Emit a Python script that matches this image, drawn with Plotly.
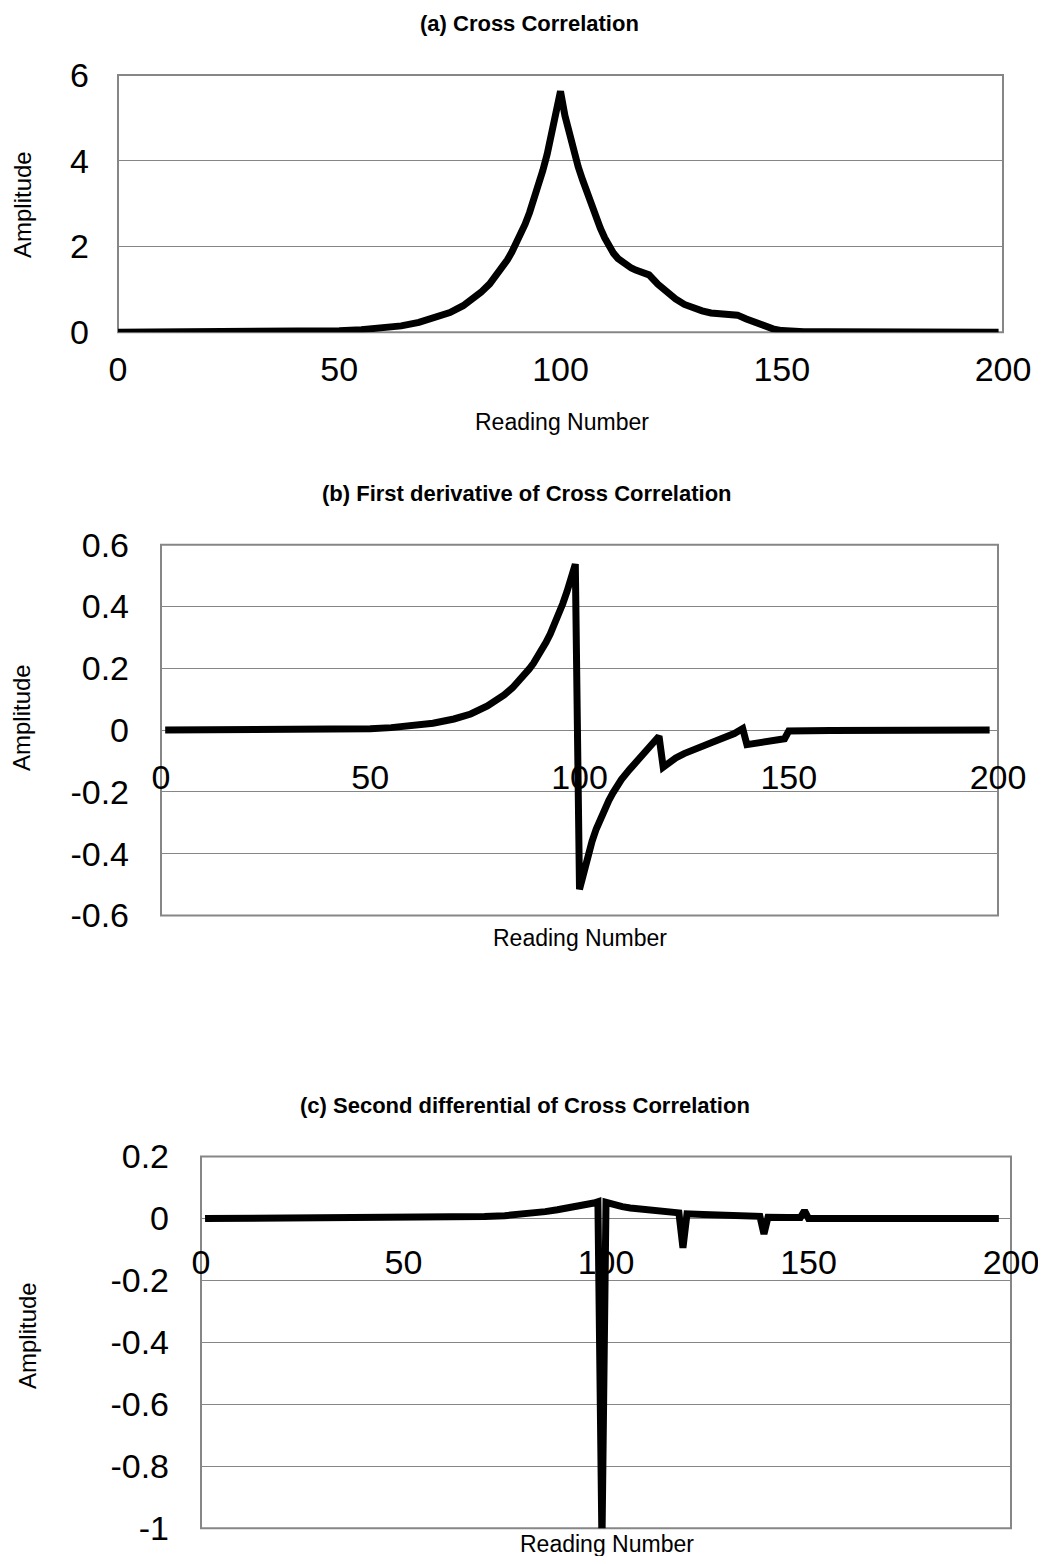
import plotly.graph_objects as go

# ---------------- data ----------------
# (a) Cross Correlation
a_x = [0, 20, 40, 50, 55, 60, 64, 68, 72, 75, 78, 80, 82, 84, 86, 87, 88, 89, 90, 91, 92, 93,
       94, 95, 96, 97, 98, 99,
       100, 101, 102, 103, 104, 105, 106, 107, 108, 109, 110, 111, 112, 113, 114, 115, 116, 117,
       118, 119, 120, 122, 124, 126, 128, 130, 132, 134, 136, 138, 140, 142, 144, 146, 148, 150,
       152, 155, 160, 170, 199]
a_y = [0.0, 0.002, 0.014, 0.038, 0.062, 0.10, 0.15, 0.23, 0.34, 0.46, 0.62, 0.76, 0.93, 1.13,
       1.38, 1.53, 1.69, 1.87, 2.07, 2.29, 2.52, 2.79, 3.08, 3.41, 3.77, 4.16, 4.60, 5.09,
       5.62, 5.05, 4.60, 4.20, 3.86, 3.55, 3.24, 2.95, 2.68, 2.43, 2.20, 2.00, 1.84, 1.72, 1.63,
       1.56, 1.50, 1.45, 1.41, 1.37, 1.34, 1.12, 0.93, 0.78, 0.65, 0.56, 0.50, 0.45, 0.42, 0.41,
       0.40, 0.31, 0.22, 0.14, 0.08, 0.04, 0.025, 0.015, 0.01, 0.005, 0.0]

# (b) First derivative of Cross Correlation
b_x = [1, 20, 40, 50, 55, 60, 65, 70, 74, 78, 80, 82, 84, 86, 88, 89, 90, 91, 92, 93, 94, 95,
       96, 97, 98, 99,
       100, 101, 102, 103, 104, 105, 106, 107, 108, 109, 110, 112, 114, 116, 118, 119,
       120, 121, 123, 125, 128, 131, 134, 137, 139,
       140, 143, 146, 149, 150, 155, 160, 198]
b_y = [0.0, 0.0002, 0.0015, 0.004, 0.008, 0.014, 0.022, 0.036, 0.052, 0.078, 0.094, 0.114,
       0.137, 0.165, 0.198, 0.216, 0.237, 0.259, 0.284, 0.311, 0.341, 0.373, 0.409, 0.448,
       0.490, 0.537,
       -0.515, -0.455, -0.405, -0.36, -0.32, -0.285, -0.255, -0.228, -0.203, -0.18, -0.16,
       -0.127, -0.097, -0.068, -0.038, -0.02,
       -0.12, -0.108, -0.09, -0.076, -0.058, -0.042, -0.027, -0.011, 0.005,
       -0.047, -0.04, -0.034, -0.028, -0.003, -0.002, -0.001, 0.0]

# (c) Second differential of Cross Correlation
c_x = [1, 50, 60, 65, 70, 75, 80, 85, 88, 91, 94, 96, 97, 98, 99, 100, 101, 102, 104, 106, 110,
       114, 118, 119, 120, 124, 128, 132, 136, 138, 139, 140, 145, 148, 149, 150, 160, 197]
c_y = [0.0, 0.0005, 0.001, 0.002, 0.006, 0.009, 0.014, 0.022, 0.028, 0.034, 0.042, 0.047,
       0.050, 0.054, -1.05, 0.052, 0.047, 0.043, 0.038, 0.034, 0.029, 0.022, 0.018,
       -0.095, 0.015, 0.013, 0.012, 0.010, 0.008, 0.007, -0.05, 0.004, 0.003, 0.003, 0.025, 0.0,
       0.0, 0.0]

x_ticks = [0, 50, 100, 150, 200]
x_ticktext = ["0", "50", "100", "150", "200"]
a_yticks = [0, 2, 4, 6]
a_yticktext = ["0", "2", "4", "6"]
b_yticks = [-0.6, -0.4, -0.2, 0, 0.2, 0.4, 0.6]
b_yticktext = ["-0.6", "-0.4", "-0.2", "0", "0.2", "0.4", "0.6"]
c_yticks = [-1, -0.8, -0.6, -0.4, -0.2, 0, 0.2]
c_yticktext = ["-1", "-0.8", "-0.6", "-0.4", "-0.2", "0", "0.2"]

titles = ["(a) Cross Correlation",
          "(b) First derivative of Cross Correlation",
          "(c) Second differential of Cross Correlation"]

# ---------------- layout geometry (pixels of the browser window) ----------------
VW, VH = 1046, 1564
BODY = 8                      # default page margin around the plot div
W, H = VW - 2 * BODY, VH - 2 * BODY
FONT = "Liberation Sans, Arial, sans-serif"
GRID = "#868686"
TICKSIZE = 34


def fx(px):
    return (px - BODY) / W


def fy(py):
    return 1 - (py - BODY) / H


fig = go.Figure()
line = dict(color="black", width=7)
fig.add_trace(go.Scatter(x=a_x, y=a_y, mode="lines", line=line, xaxis="x", yaxis="y",
                         showlegend=False))
fig.add_trace(go.Scatter(x=b_x, y=b_y, mode="lines", line=line, xaxis="x2", yaxis="y2",
                         showlegend=False))
fig.add_trace(go.Scatter(x=c_x, y=c_y, mode="lines", line=line, xaxis="x3", yaxis="y3",
                         showlegend=False))

tickfont = dict(family=FONT, size=TICKSIZE, color="black")


def xax(left, right, standoff, **kw):
    d = dict(domain=[fx(left), fx(right)], range=[0, 200], tickmode="array",
             tickvals=x_ticks, ticktext=x_ticktext, showgrid=False, zeroline=False,
             showline=False, ticks="", tickfont=tickfont, ticklabelstandoff=standoff,
             ticklabeloverflow="allow", layer="below traces", fixedrange=True,
             automargin=False)
    d.update(kw)
    return d


def yax(top, bottom, rng, vals, text, standoff, **kw):
    d = dict(domain=[fy(bottom), fy(top)], range=rng, tickmode="array", tickvals=vals,
             ticktext=text, showgrid=True, gridcolor=GRID, gridwidth=1, zeroline=False,
             showline=False, ticks="", tickfont=tickfont, ticklabelstandoff=standoff,
             ticklabeloverflow="allow", fixedrange=True, automargin=False)
    d.update(kw)
    return d


# panel pixel boxes (window coordinates)
A = dict(l=118, r=1003, t=75, b=332.3)
B = dict(l=161, r=998, t=544.7, b=915.5, zero=730.5)
C = dict(l=201, r=1011, t=1156.5, b=1528.3, zero=1219)

fig.update_layout(
    width=W, height=H, margin=dict(l=0, r=0, t=0, b=0, pad=0, autoexpand=False),
    paper_bgcolor="white", plot_bgcolor="white",
    xaxis=xax(A["l"], A["r"], 14, anchor="y"),
    yaxis=yax(A["t"], A["b"], [0, 6], a_yticks, a_yticktext, 28, anchor="x"),
    xaxis2=xax(B["l"], B["r"], 23, anchor="free", position=fy(B["zero"])),
    yaxis2=yax(B["t"], B["b"], [-0.6, 0.6], b_yticks, b_yticktext, 31, anchor="x2"),
    xaxis3=xax(C["l"], C["r"], 20, anchor="free", position=fy(C["zero"])),
    yaxis3=yax(C["t"], C["b"], [-1, 0.2], c_yticks, c_yticktext, 31, anchor="x3"),
)

# plot-area borders
for xr, yr in [("x", "y"), ("x2", "y2"), ("x3", "y3")]:
    fig.add_shape(type="rect", xref=f"{xr} domain", yref=f"{yr} domain", x0=0, x1=1, y0=0, y1=1,
                  line=dict(color=GRID, width=2), layer="below")

# titles and axis titles
ann = []
title_pos = [(529, 23), (527, 493), (525, 1105)]
for t, (px, py) in zip(titles, title_pos):
    ann.append(dict(text=f"<b>{t}</b>", x=fx(px), y=fy(py), xref="paper", yref="paper",
                    xanchor="center", yanchor="middle", showarrow=False,
                    font=dict(family=FONT, size=22, color="black")))
for px, py in [(562, 421.7), (580, 938), (607, 1544)]:
    ann.append(dict(text="Reading Number", x=fx(px), y=fy(py), xref="paper", yref="paper",
                    xanchor="center", yanchor="middle", showarrow=False,
                    font=dict(family=FONT, size=23, color="black")))
for px, py in [(22, 205), (21, 718), (27, 1336)]:
    ann.append(dict(text="Amplitude", x=fx(px), y=fy(py), xref="paper", yref="paper",
                    xanchor="center", yanchor="middle", showarrow=False, textangle=-90,
                    font=dict(family=FONT, size=24, color="black")))
fig.update_layout(annotations=ann)

fig.write_html("out.html")
